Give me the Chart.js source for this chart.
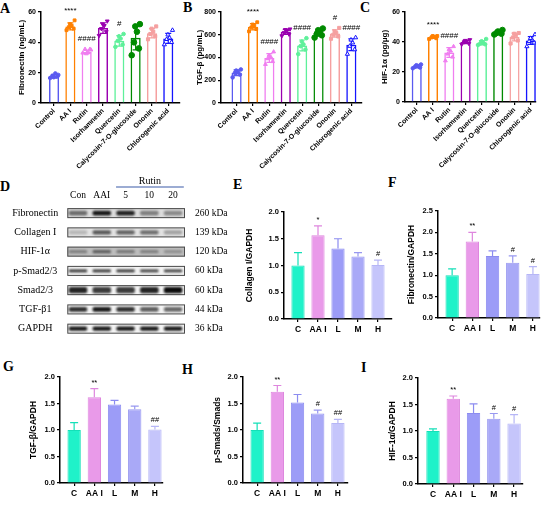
<!DOCTYPE html>
<html>
<head>
<meta charset="utf-8">
<title>Rutin figure</title>
<script src="https://cdn.jsdelivr.net/npm/chart.js@4.4.1/dist/chart.umd.min.js"></script>
<style>
  html, body { margin: 0; padding: 0; background: #fff; }
  body { position: relative; width: 550px; height: 505px; overflow: hidden; }
  .panel { position: absolute; }
  .letter { position: absolute; font: bold 14px "Liberation Serif", "Times New Roman", serif; line-height: 16px; color: #000; }
</style>
</head>
<body>
<div class="letter" style="left:0px;top:1px">A</div>
<div class="letter" style="left:183px;top:0px">B</div>
<div class="letter" style="left:360px;top:0px">C</div>
<div class="letter" style="left:0px;top:179px">D</div>
<div class="letter" style="left:233px;top:177px">E</div>
<div class="letter" style="left:388px;top:175px">F</div>
<div class="letter" style="left:3px;top:359px">G</div>
<div class="letter" style="left:182px;top:362px">H</div>
<div class="letter" style="left:361px;top:360px">I</div>
<script>
// ---- screening panels (A-C) ----
const screenLabels = ['Control', 'AA I', 'Rutin', 'Isorhamnetin', 'Quercetin', 'Calycosin-7-O-glucoside', 'Ononin', 'Chlorogenic acid'];

const fnMean = [17.6, 50.5, 33.7, 49.4, 41, 43, 46, 42.6];
const fnSd = [1.2, 2.3, 1.2, 3.5, 3.5, 8, 3.1, 3.3];
const fnPts = [
  [16.5, 17.5, 18, 19.5, 17, 18.5],
  [48, 49, 50, 51, 52, 54.5],
  [33, 35.5, 35.5, 33.5, 32.5, 35],
  [44.5, 47, 49, 51, 52, 54],
  [37, 38.5, 41, 42.5, 44, 45.5],
  [31.5, 36, 40, 47, 50.5, 52],
  [42, 44, 45.5, 47, 49, 50.5],
  [38.5, 40, 42, 43, 45, 48]
];
const fnMarks = ['', '****', '####', '', '#', '', '', ''];

const tgfMean = [266, 670, 396, 625, 506, 617, 610, 512];
const tgfSd = [25, 28, 38, 22, 48, 30, 32, 52];
const tgfPts = [
  [225, 250, 265, 275, 285, 295],
  [630, 650, 665, 680, 690, 710],
  [340, 365, 390, 405, 420, 450],
  [590, 605, 620, 635, 645, 650],
  [430, 470, 500, 515, 540, 570],
  [575, 595, 610, 625, 640, 655],
  [565, 585, 600, 615, 630, 660],
  [430, 470, 500, 530, 555, 575]
];
const tgfMarks = ['', '****', '####', '', '####', '', '#', '####'];

const hifMean = [23.6, 43.2, 33, 40, 39.5, 46.3, 43.3, 41];
const hifSd = [0.9, 0.8, 3.3, 1.1, 1.4, 1.1, 2.6, 2.6];
const hifPts = [
  [22.5, 23, 23.5, 24, 24.5, 25],
  [42, 42.5, 43, 43.5, 44, 44],
  [27.5, 30, 32, 34, 35, 37],
  [38.5, 39, 40, 40.5, 41, 41.5],
  [38, 38.5, 39, 39.5, 40.5, 42],
  [45, 45.5, 46, 46.5, 47, 48],
  [39, 41, 43, 44.5, 45.5, 46],
  [37, 39.5, 40.5, 41.5, 42.5, 45]
];
const hifMarks = ['', '****', '####', '', '', '', '', ''];

// ---- western blot (D) ----
const lanes = ['Con', 'AAI', '5', '10', '20'];
const proteins = ['Fibronectin', 'Collagen I', 'HIF-1α', 'p-Smad2/3', 'Smad2/3', 'TGF-β1', 'GAPDH'];
const kda = ['260 kDa', '139 kDa', '120 kDa', '60 kDa', '60 kDa', '44 kDa', '36 kDa'];
const bandDensity = [
  [0.55, 0.95, 0.9, 0.45, 0.4],
  [0.2, 0.65, 0.6, 0.55, 0.3],
  [0.35, 0.55, 0.4, 0.35, 0.25],
  [0.85, 0.85, 0.85, 0.8, 0.8],
  [0.9, 0.8, 0.8, 0.9, 1.0],
  [0.85, 0.95, 0.85, 0.65, 0.6],
  [0.95, 0.95, 0.95, 0.95, 0.95]
];

// ---- quantification (E-I) ----
const groupLabels = ['C', 'AA I', 'L', 'M', 'H'];
const colMean = [1.0, 1.565, 1.32, 1.17, 1.01];
const colSd = [0.24, 0.175, 0.18, 0.07, 0.09];
const colMarks = ['', '*', '', '', '#'];
const fibMean = [1.0, 1.79, 1.45, 1.29, 1.03];
const fibSd = [0.15, 0.21, 0.12, 0.16, 0.17];
const fibMarks = ['', '**', '', '#', '#'];
const tgfbMean = [1.0, 1.62, 1.48, 1.39, 1.01];
const tgfbSd = [0.14, 0.16, 0.08, 0.06, 0.06];
const tgfbMarks = ['', '**', '', '', '##'];
const smadMean = [1.0, 1.72, 1.52, 1.31, 1.13];
const smadSd = [0.13, 0.12, 0.15, 0.065, 0.07];
const smadMarks = ['', '**', '', '#', '##'];
const hifaMean = [1.0, 1.61, 1.34, 1.23, 1.14];
const hifaSd = [0.04, 0.05, 0.17, 0.1, 0.17];
const hifaMarks = ['', '**', '', '#', '#'];

// ---- styles ----
const screenColors = ['#5a5af0', '#ff8000', '#f07ef0', '#9a00b0', '#5ef09a', '#008a00', '#f5a0a0', '#1414ff'];
const screenShapes = [
  { style: 'circle', r: 1.8 }, { style: 'rect', r: 2 }, { style: 'triangle', r: 2.2 },
  { style: 'triangle', r: 2.2, rot: 180 }, { style: 'circle', r: 1.8 }, { style: 'circle', r: 2.8 },
  { style: 'rect', r: 2.2 }, { style: 'triangle', r: 2.4, open: true }
];
const JIT = [-0.24, 0.2, -0.1, 0.08, -0.02, 0.26];
const wbColors = ['#1ff2c9', '#e99ae9', '#9c9cf7', '#a9a9f7', '#c5c5fb'];
const wbEdge = ['#14e0b8', '#de86de', '#8c8cf0', '#9898f0', '#b6b6f6'];
const boxShade = ['#dcdcdc', '#e2e2e2', '#bdbdbd', '#f3f3f3', '#f3f3f3', '#f3f3f3', '#f3f3f3'];
const bandHalf = [0.12, 0.11, 0.08, 0.07, 0.16, 0.12, 0.11];

Chart.defaults.font.family = '"Liberation Sans", Arial, sans-serif';
Chart.defaults.font.weight = 'bold';
Chart.defaults.color = '#000';
Chart.defaults.animation = false;

const SERIF = '"Liberation Serif", "Times New Roman", serif';

const errPlugin = {
  id: 'err',
  afterDatasetDraw(chart, args, o) {
    if (!o || !o.mean || args.meta.type !== 'bar') return;
    const { ctx, scales: { x, y } } = chart;
    ctx.save();
    ctx.lineWidth = o.lw || 1.2;
    o.mean.forEach((m, i) => {
      const px = x.getPixelForValue(i);
      const top = y.getPixelForValue(m + o.sd[i]);
      const bot = y.getPixelForValue(o.both ? m - o.sd[i] : m);
      ctx.strokeStyle = o.colors[i];
      ctx.beginPath();
      ctx.moveTo(px, bot); ctx.lineTo(px, top);
      ctx.moveTo(px - o.cap, top); ctx.lineTo(px + o.cap, top);
      if (o.both) { ctx.moveTo(px - o.cap, bot); ctx.lineTo(px + o.cap, bot); }
      ctx.stroke();
    });
    ctx.restore();
  },
  afterDraw(chart, args, o) {
    if (!o || !o.marks) return;
    const { ctx, scales: { x, y } } = chart;
    ctx.save();
    ctx.fillStyle = '#000';
    ctx.font = 'normal ' + o.markFont + 'px "Liberation Sans", Arial, sans-serif';
    ctx.textAlign = 'center';
    ctx.textBaseline = 'middle';
    o.marks.forEach((s, i) => {
      if (!s) return;
      const v = o.pts ? Math.max(...o.pts[i]) : o.mean[i] + o.sd[i];
      ctx.fillText(s, x.getPixelForValue(i), y.getPixelForValue(v) - o.gap);
    });
    ctx.restore();
  }
};
Chart.register(errPlugin);

function mount(g) {
  const d = document.createElement('div');
  d.className = 'panel';
  d.style.left = g.x + 'px';
  d.style.top = g.y + 'px';
  d.style.width = g.w + 'px';
  d.style.height = g.h + 'px';
  const c = document.createElement('canvas');
  c.width = g.w;
  c.height = g.h;
  d.appendChild(c);
  document.body.appendChild(d);
  return c;
}

function frame(g, o) {
  return {
    responsive: false,
    animation: false,
    layout: { padding: { left: 0, top: g.t - g.y, right: g.x + g.w - g.r, bottom: 0 } },
    plugins: { legend: { display: false }, tooltip: { enabled: false }, err: o.err },
    scales: {
      x: {
        type: 'linear', bounds: 'data', min: o.xMin, max: o.xMax, offset: false,
        afterBuildTicks: s => { s.ticks = o.labels.map((_, i) => ({ value: i })); },
        afterFit: s => { s.height = g.y + g.h - g.b; },
        grid: { drawOnChartArea: false, tickLength: 3, color: '#000', lineWidth: 1.2, offset: false },
        border: { color: '#000', width: 1.5 },
        ticks: { autoSkip: false, minRotation: o.rot, maxRotation: o.rot, padding: o.xPad, font: { size: o.xFont }, callback: v => o.labels[v] }
      },
      y: {
        min: 0, max: o.yMax,
        afterFit: s => { s.width = g.l - g.x; },
        grid: { drawOnChartArea: false, tickLength: 3, color: '#000', lineWidth: 1.2 },
        border: { color: '#000', width: 1.5 },
        ticks: { stepSize: o.yStep, padding: 2, font: { size: o.yFont }, callback: o.fmt },
        title: { display: true, text: o.title, font: { size: o.tFont }, padding: 0 }
      }
    }
  };
}

function screenChart(g, title, means, sds, pts, marks, yMax, yStep, gap) {
  const datasets = [{
    type: 'bar', order: 2,
    data: means.map((m, i) => ({ x: i, y: m })),
    backgroundColor: 'rgba(255,255,255,0)', borderColor: screenColors, borderWidth: 1.5,
    barPercentage: 0.62, categoryPercentage: 1
  }];
  pts.forEach((arr, i) => {
    const sh = screenShapes[i];
    datasets.push({
      type: 'scatter', order: 1,
      data: arr.map((v, k) => ({ x: i + JIT[k], y: v })),
      pointStyle: sh.style, rotation: sh.rot || 0, pointRadius: sh.r,
      backgroundColor: sh.open ? '#fff' : screenColors[i], borderColor: screenColors[i], borderWidth: 1
    });
  });
  new Chart(mount(g), {
    type: 'bar',
    data: { datasets },
    options: frame(g, {
      labels: screenLabels, xMin: g.xMin, xMax: g.xMax, rot: 45, xPad: 1, xFont: 7,
      yMax, yStep, yFont: 7, fmt: v => String(v), title, tFont: 8,
      err: { mean: means, sd: sds, colors: screenColors, both: true, cap: 3, lw: 1.2, pts, marks, gap, markFont: 8 }
    })
  });
}

function wbChart(g, title, means, sds, marks, yMax) {
  new Chart(mount(g), {
    type: 'bar',
    data: {
      datasets: [{
        data: means.map((m, i) => ({ x: i, y: m })),
        backgroundColor: wbColors, borderColor: wbEdge, borderWidth: 1,
        barPercentage: 0.66, categoryPercentage: 1
      }]
    },
    options: frame(g, {
      labels: groupLabels, xMin: g.xMin, xMax: g.xMax, rot: 0, xPad: 3, xFont: 8.5,
      yMax, yStep: 0.5, yFont: 7.5, fmt: v => v.toFixed(1), title, tFont: 8.5,
      err: { mean: means, sd: sds, colors: wbEdge, both: false, cap: 4, lw: 1.2, marks, gap: 6, markFont: 7.5 }
    })
  });
}

// A-C
screenChart({ x: 17, y: 0, w: 169, h: 180, l: 41, t: 12, r: 180, b: 103, xMin: -0.8, xMax: 7.72 },
  'Fibronectin (ng/mL)', fnMean, fnSd, fnPts, fnMarks, 60, 20, 10);
screenChart({ x: 195, y: 0, w: 173, h: 180, l: 221, t: 12, r: 362, b: 103, xMin: -0.95, xMax: 7.65 },
  'TGF-β (pg/mL)', tgfMean, tgfSd, tgfPts, tgfMarks, 800, 200, 10);
screenChart({ x: 380, y: 0, w: 162, h: 180, l: 405, t: 12, r: 536, b: 102, xMin: -0.72, xMax: 7.32 },
  'HIF-1α (pg/μg)', hifMean, hifSd, hifPts, hifMarks, 60, 20, 11);

// D: blot drawn as floating bars on lane / row scales
const blotPlugin = {
  id: 'blot',
  beforeDatasetsDraw(chart) {
    const { ctx, chartArea: a, scales: { y } } = chart;
    ctx.save();
    proteins.forEach((p, r) => {
      const t = y.getPixelForValue(r - 0.26), b = y.getPixelForValue(r + 0.26);
      ctx.fillStyle = boxShade[r];
      ctx.fillRect(a.left, t, a.right - a.left, b - t);
      ctx.strokeStyle = '#4a4a4a';
      ctx.lineWidth = 1;
      ctx.strokeRect(a.left + 0.5, t + 0.5, a.right - a.left - 1, b - t - 1);
    });
    ctx.restore();
    ctx.save();
    ctx.filter = 'blur(0.8px)';
  },
  afterDatasetsDraw(chart) {
    const { ctx, chartArea: a, scales: { x } } = chart;
    ctx.restore();
    const x0 = x.getPixelForValue(1.6), x1 = x.getPixelForValue(4.45);
    const yl = a.top - 16.5;
    ctx.save();
    ctx.strokeStyle = '#3a5aa8';
    ctx.lineWidth = 1.2;
    ctx.beginPath(); ctx.moveTo(x0, yl); ctx.lineTo(x1, yl); ctx.stroke();
    ctx.fillStyle = '#000';
    ctx.font = '10px ' + SERIF;
    ctx.textAlign = 'center';
    ctx.textBaseline = 'bottom';
    ctx.fillText('Rutin', (x0 + x1) / 2, yl - 1);
    ctx.restore();
  }
};

const gD = { x: 4, y: 172, w: 236, h: 182, l: 67.3, t: 203.5, r: 185, b: 350.5 };
const rowAxis = (pos, names, pad, align) => ({
  position: pos, reverse: true, bounds: 'data', min: -0.5, max: 6.5,
  afterBuildTicks: s => { s.ticks = names.map((_, i) => ({ value: i })); },
  afterFit: s => { s.width = pos === 'left' ? gD.l - gD.x : gD.x + gD.w - gD.r; },
  grid: { display: false, drawTicks: false }, border: { display: false },
  ticks: { autoSkip: false, padding: pad, crossAlign: align, font: { family: SERIF, weight: 'normal', size: pos === 'left' ? 10 : 9.5 }, callback: v => names[v] }
});
new Chart(mount(gD), {
  type: 'bar',
  data: {
    datasets: proteins.map((p, r) => ({
      grouped: false, yAxisID: 'y',
      data: lanes.map((l, i) => ({ x: i, y: [r - bandHalf[r], r + bandHalf[r]] })),
      backgroundColor: bandDensity[r].map(a => 'rgba(12,12,12,' + a + ')'),
      borderWidth: 0, borderSkipped: false, borderRadius: 2,
      barPercentage: 0.78, categoryPercentage: 1
    }))
  },
  options: {
    responsive: false, animation: false,
    layout: { padding: { left: 0, top: 0, right: 0, bottom: gD.y + gD.h - gD.b } },
    plugins: { legend: { display: false }, tooltip: { enabled: false } },
    scales: {
      x: {
        type: 'linear', position: 'top', bounds: 'data', min: -0.45, max: 4.5, offset: false,
        afterBuildTicks: s => { s.ticks = lanes.map((_, i) => ({ value: i })); },
        afterFit: s => { s.height = gD.t - gD.y; },
        grid: { display: false, drawTicks: false }, border: { display: false },
        ticks: { autoSkip: false, maxRotation: 0, padding: 2, font: { family: SERIF, weight: 'normal', size: 9.5 }, callback: v => lanes[v] }
      },
      y: rowAxis('left', proteins, 9, 'center'),
      y2: rowAxis('right', kda, 10, 'near')
    }
  },
  plugins: [blotPlugin]
});

// E-I
wbChart({ x: 245, y: 196, w: 153, h: 143, l: 284, t: 212, r: 392, b: 319, xMin: -0.7, xMax: 4.7 },
  'Collagen I/GAPDH', colMean, colSd, colMarks, 2.0);
wbChart({ x: 407, y: 196, w: 139, h: 142, l: 438, t: 211, r: 540, b: 318, xMin: -0.7, xMax: 4.35 },
  'Fibronectin/GAPDH', fibMean, fibSd, fibMarks, 2.5);
wbChart({ x: 29, y: 362, w: 140, h: 141, l: 60, t: 377, r: 163, b: 483, xMin: -0.7, xMax: 4.4 },
  'TGF-β/GAPDH', tgfbMean, tgfbSd, tgfbMarks, 2.0);
wbChart({ x: 213, y: 362, w: 141, h: 141, l: 243, t: 377, r: 348, b: 483, xMin: -0.7, xMax: 4.5 },
  'p-Smads/Smads', smadMean, smadSd, smadMarks, 2.0);
wbChart({ x: 388, y: 362, w: 141, h: 142, l: 418, t: 378, r: 523, b: 484, xMin: -0.74, xMax: 4.44 },
  'HIF-1α/GAPDH', hifaMean, hifaSd, hifaMarks, 2.0);
</script>
</body>
</html>
